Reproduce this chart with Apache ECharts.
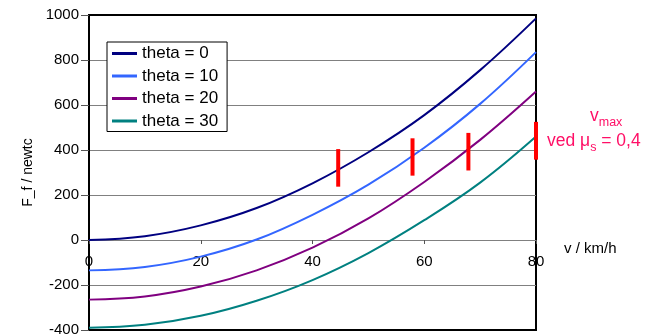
<!DOCTYPE html>
<html><head><meta charset="utf-8">
<script src="https://cdn.jsdelivr.net/npm/echarts@6/dist/echarts.min.js"></script>
<style>html,body{margin:0;padding:0;background:#fff}#c{width:646px;height:336px}</style>
</head><body><div id="c"></div>
<script>
const FONT = 'Arial, "Liberation Sans", sans-serif';
const speeds = [0, 10, 20, 30, 40, 50, 60, 70, 80];
const theta0  = [0, 17, 65, 142, 252, 390, 555, 755, 985];
const theta10 = [-135, -120, -74, 2, 112, 246, 410, 605, 835];
const theta20 = [-265, -251, -207, -135, -34, 96, 258, 445, 660];
const theta30 = [-390, -377, -337, -270, -178, -58, 88, 255, 460];
const seriesNames = ['theta = 0', 'theta = 10', 'theta = 20', 'theta = 30'];
const seriesColors = ['#000080', '#3366ff', '#800080', '#008080'];
const markerV    = [44.6, 57.9, 67.9, 80];
const markerLow  = [237, 286, 309, 357];
const markerHigh = [404, 452, 476, 525];
const yMin = -400, yMax = 1000;

const curves = [theta0, theta10, theta20, theta30];
const chart = echarts.init(document.getElementById('c'), null, {renderer: 'canvas'});

const ctx = document.createElement('canvas').getContext('2d');
function tw(t, s) { ctx.font = s + 'px ' + FONT; return ctx.measureText(t).width; }

const mainSize = 17.5, subSize = 12.5, pink = '#ff0f66';
const l2x = 547, l2y = 146;
const w1 = tw('ved \u03bc', mainSize), ws = tw('s', subSize);
const vx = 590, vy = 121;
const wv = tw('v', mainSize);
function txt(t, x, baseline, size) {
  return {type: 'text', x: x, y: baseline + size * 0.21, silent: true,
    style: {text: t, fill: pink, font: size + 'px ' + FONT, verticalAlign: 'bottom', align: 'left'}};
}

const gridTop = 15, gridBottom = 6, H = 336;
const plotH = H - gridTop - gridBottom;
const xOffset = -(0 - yMin) / (yMax - yMin) * plotH;  // place x axis on the zero line

chart.setOption({
  animation: false,
  textStyle: {fontFamily: FONT},
  grid: {left: 89, right: 110, top: gridTop, bottom: gridBottom, outerBoundsMode: 'none', containLabel: false,
    show: true, borderColor: '#000', borderWidth: 2, backgroundColor: 'transparent'},
  legend: {
    data: seriesNames.map((n, i) => ({name: n, icon: 'rect', itemStyle: {color: seriesColors[i]}})),
    orient: 'vertical', left: 107, top: 42,
    padding: [3, 9, 2, 5], itemWidth: 25, itemHeight: 3, itemGap: 5.5,
    backgroundColor: '#fff', borderColor: '#000', borderWidth: 1, borderRadius: 0,
    textStyle: {fontSize: 17, color: '#000', fontFamily: FONT}
  },
  xAxis: {
    type: 'value', min: 0, max: 80, interval: 20, position: 'bottom', offset: xOffset,
    axisLine: {onZero: false, lineStyle: {color: '#808080', width: 1}},
    axisTick: {show: true, length: 4, lineStyle: {color: '#555'}},
    axisLabel: {color: '#000', fontSize: 15, margin: 14, fontFamily: FONT},
    splitLine: {show: false},
    name: 'v / km/h', nameLocation: 'end', nameGap: 28,
    nameTextStyle: {color: '#000', fontSize: 15, fontFamily: FONT, verticalAlign: 'top', padding: [1, 0, 0, 0]}
  },
  yAxis: {
    type: 'value', min: yMin, max: yMax, interval: 200,
    axisLine: {show: true, onZero: false, lineStyle: {color: '#000', width: 2}},
    axisTick: {show: true, length: 8, lineStyle: {color: '#555'}},
    axisLabel: {color: '#000', fontSize: 15, margin: 10, fontFamily: FONT, formatter: v => String(v)},
    splitLine: {show: true, showMinLine: false, showMaxLine: false, lineStyle: {color: '#808080', width: 1}},
    name: 'F_f / newtc', nameLocation: 'middle', nameRotate: 90, nameGap: 50,
    nameTextStyle: {color: '#000', fontSize: 14, fontFamily: FONT}
  },
  series: curves.map((c, i) => ({
    name: seriesNames[i], type: 'line', smooth: 0.4, symbol: 'none',
    data: speeds.map((v, j) => [v, c[j]]),
    lineStyle: {color: seriesColors[i], width: 2}, itemStyle: {color: seriesColors[i]},
    z: 3
  })).concat([{
    type: 'custom', name: 'vmax', clip: false, z: 5,
    data: markerV.map((v, i) => [v, markerLow[i], markerHigh[i]]),
    encode: {x: 0, y: [1, 2]},
    renderItem: function (params, api) {
      const p1 = api.coord([api.value(0), api.value(1)]);
      const p2 = api.coord([api.value(0), api.value(2)]);
      return {type: 'line', shape: {x1: p1[0], y1: p1[1], x2: p2[0], y2: p2[1]},
        style: {stroke: '#ff0000', lineWidth: 4}};
    }
  }]),
  graphic: [
    txt('v', vx, vy, mainSize),
    txt('max', vx + wv, vy + 5, subSize),
    txt('ved \u03bc', l2x, l2y, mainSize),
    txt('s', l2x + w1, l2y + 5, subSize),
    txt(' = 0,4', l2x + w1 + ws, l2y, mainSize)
  ]
});
</script></body></html>
